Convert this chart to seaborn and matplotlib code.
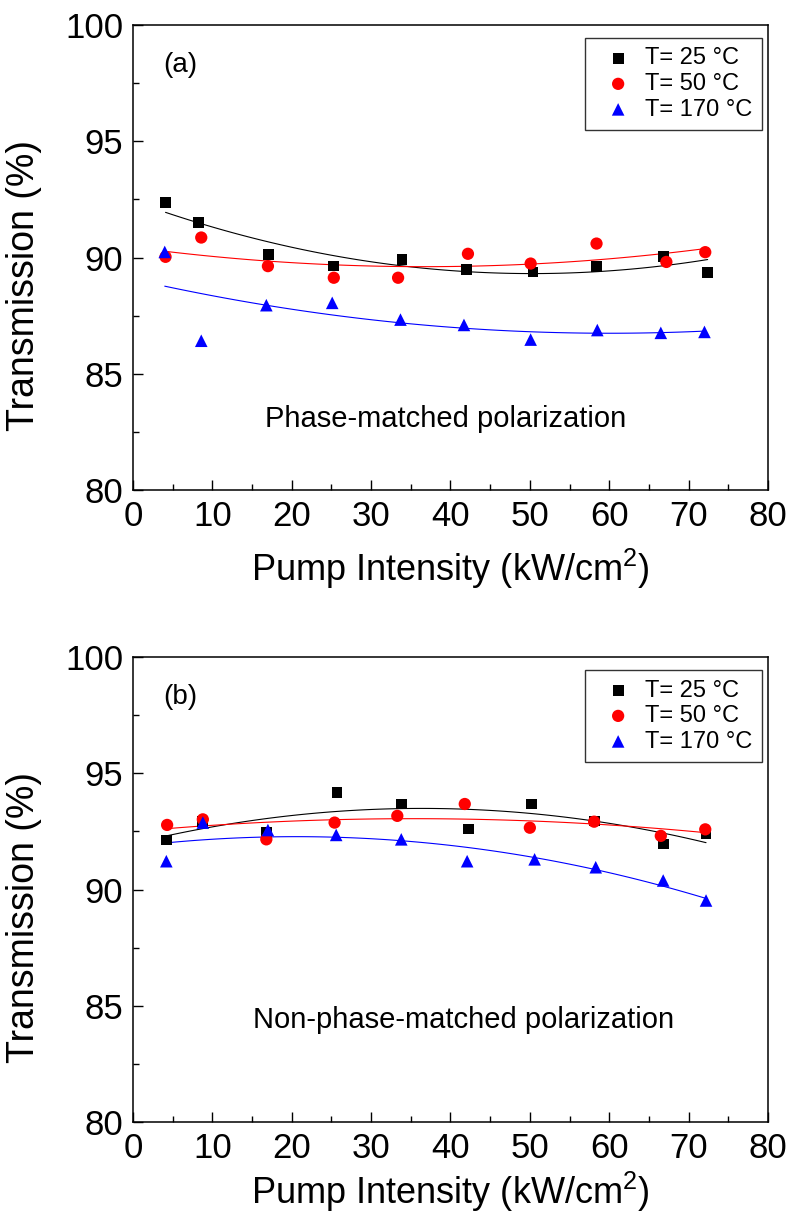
import numpy as np
import pandas as pd
import matplotlib
matplotlib.use("Agg")
import matplotlib.pyplot as plt
import seaborn as sns

# ---------------- data ----------------
series_labels = ["T= 25 °C", "T= 50 °C", "T= 170 °C"]
series_colors = ["#000000", "#ff0000", "#0000ff"]
series_markers = ["s", "o", "^"]

# Panel (a): phase-matched polarization
a_x_25 = [4.1, 8.3, 17.1, 25.3, 33.9, 42.0, 50.4, 58.4, 66.8, 72.4]
a_y_25 = [92.36, 91.50, 90.14, 89.64, 89.91, 89.50, 89.38, 89.61, 90.06, 89.37]
a_x_50 = [4.1, 8.6, 17.0, 25.3, 33.4, 42.2, 50.1, 58.4, 67.2, 72.1]
a_y_50 = [90.03, 90.86, 89.63, 89.13, 89.13, 90.16, 89.74, 90.60, 89.81, 90.23]
a_x_170 = [4.0, 8.6, 16.8, 25.1, 33.7, 41.7, 50.1, 58.5, 66.5, 72.0]
a_y_170 = [90.24, 86.42, 87.95, 88.05, 87.33, 87.10, 86.47, 86.88, 86.76, 86.80]

# Panel (b): non-phase-matched polarization
b_x_25 = [4.2, 8.8, 16.8, 25.7, 33.8, 42.3, 50.2, 58.1, 66.8, 72.2]
b_y_25 = [92.13, 92.92, 92.45, 94.17, 93.68, 92.61, 93.68, 92.95, 91.96, 92.39]
b_x_50 = [4.3, 8.8, 16.8, 25.4, 33.3, 41.8, 50.0, 58.1, 66.5, 72.1]
b_y_50 = [92.78, 93.02, 92.16, 92.88, 93.17, 93.68, 92.66, 92.92, 92.31, 92.59]
b_x_170 = [4.2, 8.8, 17.0, 25.6, 33.8, 42.1, 50.6, 58.3, 66.8, 72.2]
b_y_170 = [91.22, 92.88, 92.56, 92.35, 92.16, 91.22, 91.30, 90.96, 90.39, 89.53]

x_ticks = [0, 10, 20, 30, 40, 50, 60, 70, 80]
y_ticks = [80, 85, 90, 95, 100]

panel_a = [(a_x_25, a_y_25), (a_x_50, a_y_50), (a_x_170, a_y_170)]
panel_b = [(b_x_25, b_y_25), (b_x_50, b_y_50), (b_x_170, b_y_170)]

# ---------------- style ----------------
sns.set_style("ticks")
plt.rcParams["font.family"] = ["Liberation Sans", "DejaVu Sans"]
plt.rcParams["mathtext.default"] = "regular"
for key in ["text.color", "axes.labelcolor", "xtick.color", "ytick.color",
            "axes.edgecolor"]:
    plt.rcParams[key] = "black"

fig = plt.figure(figsize=(7.94, 12.15), dpi=100)
ax1 = fig.add_axes([0.1675, 0.5967, 0.7997, 0.3827])
ax2 = fig.add_axes([0.1675, 0.0765, 0.7997, 0.3827])

marker_sizes = [60, 78, 82]


def draw_panel(ax, panel, tag, note, note_xy, xlabel_y):
    for (xs, ys), lab, col, mk, ms in zip(panel, series_labels, series_colors,
                                          series_markers, marker_sizes):
        df = pd.DataFrame({"x": xs, "y": ys})
        sns.regplot(data=df, x="x", y="y", order=2, ci=None, scatter=False,
                    ax=ax, color=col, line_kws=dict(lw=0.8), truncate=True)
        sns.scatterplot(data=df, x="x", y="y", ax=ax, color=col, marker=mk,
                        s=ms, edgecolor="none", linewidth=0, label=lab,
                        zorder=3)
    ax.set_xlim(0, 80)
    ax.set_ylim(80, 100)
    ax.set_xticks(x_ticks)
    ax.set_yticks(y_ticks)
    ax.set_xticks([5, 15, 25, 35, 45, 55, 65, 75], minor=True)
    ax.set_yticks([82.5, 87.5, 92.5, 97.5], minor=True)
    ax.tick_params(which="major", direction="in", length=7, width=1.0,
                   labelsize=25, top=False, right=False, colors="black")
    ax.tick_params(axis="x", which="major", pad=7)
    ax.tick_params(axis="y", which="major", pad=7)
    ax.tick_params(which="minor", direction="in", length=4, width=1.0,
                   top=False, right=False, colors="black")
    for sp in ax.spines.values():
        sp.set_visible(True)
        sp.set_linewidth(1.1)
        sp.set_color("black")
    ax.set_xlabel("Pump Intensity (kW/cm$^{2}$)", fontsize=26, color="black")
    ax.set_ylabel("Transmission (%)", fontsize=27, color="black")
    ax.xaxis.set_label_coords(0.5, xlabel_y)
    ax.yaxis.set_label_coords(-0.143, 0.44)
    ax.text(0.047, 0.914, tag, transform=ax.transAxes, fontsize=20,
            va="center", ha="left", color="black")
    ax.text(note_xy[0], note_xy[1], note, transform=ax.transAxes,
            fontsize=21, ha="center", va="baseline", color="black")
    leg = ax.legend(loc="upper right", bbox_to_anchor=(0.9906, 0.972),
                    borderaxespad=0, frameon=True, fancybox=False,
                    edgecolor="black", fontsize=17, labelspacing=0.15,
                    handletextpad=0.15, borderpad=0.4, handlelength=2.0,
                    markerscale=1.0, labelcolor="black")
    leg.get_frame().set_linewidth(1.0)


draw_panel(ax1, panel_a, "(a)", "Phase-matched polarization",
           (0.493, 0.1355), -0.122)
draw_panel(ax2, panel_b, "(b)", "Non-phase-matched polarization",
           (0.52, 0.202), -0.102)

fig.savefig("out.png", dpi=100, facecolor="white")
